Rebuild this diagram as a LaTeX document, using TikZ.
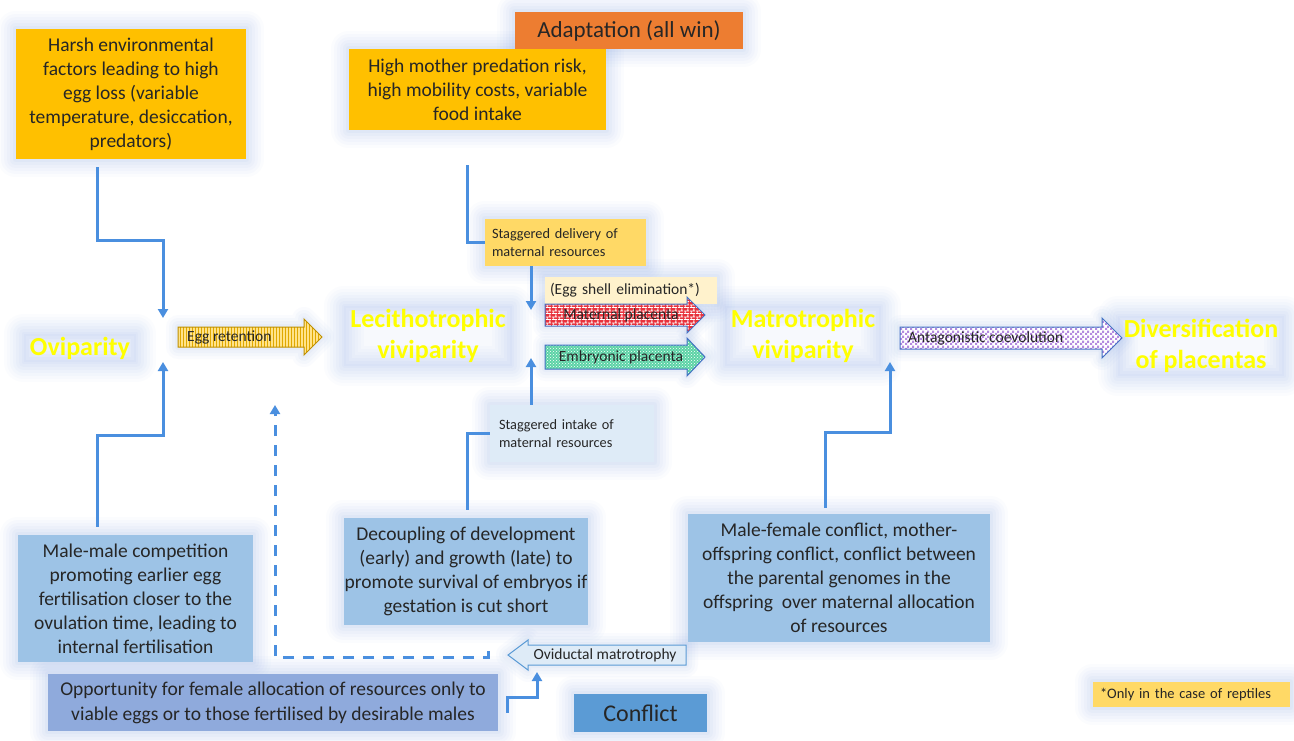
\documentclass[tikz,border=0pt]{standalone}
\usepackage{fontspec}
\setmainfont{Carlito}
\usetikzlibrary{arrows.meta,patterns,calc}
\pgfdeclarelayer{background}
\pgfsetlayers{background,main}

\definecolor{goldc}{HTML}{FFC000}
\definecolor{goldlt}{HTML}{FFD966}
\definecolor{creamc}{HTML}{FFF2CC}
\definecolor{orangec}{HTML}{ED7D31}
\definecolor{blueboxc}{HTML}{9DC3E6}
\definecolor{paleboxc}{HTML}{DEEBF7}
\definecolor{slateboxc}{HTML}{8FAADC}
\definecolor{conflictc}{HTML}{5B9BD5}
\definecolor{linec}{HTML}{4A8FDF}
\definecolor{glowc}{HTML}{8FAEE6}
\definecolor{yelc}{HTML}{FFFF00}
\definecolor{txtc}{HTML}{262626}
\definecolor{edgec}{HTML}{4472C4}
\definecolor{eggfill}{HTML}{FFE38A}
\definecolor{eggline}{HTML}{E0A800}
\definecolor{eggedge}{HTML}{BF9000}
\definecolor{redfill}{HTML}{E8323C}
\definecolor{greenfill}{HTML}{5CD3A6}
\definecolor{purpline}{HTML}{B48ADF}

% small brick texture for the maternal placenta arrow
\pgfdeclarepatternformonly{smallbricks}{\pgfqpoint{0pt}{0pt}}{\pgfqpoint{6pt}{6pt}}{\pgfqpoint{6pt}{6pt}}{%
  \pgfsetlinewidth{0.9pt}%
  \pgfpathmoveto{\pgfqpoint{0pt}{0.5pt}}\pgfpathlineto{\pgfqpoint{6pt}{0.5pt}}%
  \pgfpathmoveto{\pgfqpoint{0pt}{3.5pt}}\pgfpathlineto{\pgfqpoint{6pt}{3.5pt}}%
  \pgfpathmoveto{\pgfqpoint{1.5pt}{0.5pt}}\pgfpathlineto{\pgfqpoint{1.5pt}{3.5pt}}%
  \pgfpathmoveto{\pgfqpoint{4.5pt}{3.5pt}}\pgfpathlineto{\pgfqpoint{4.5pt}{6.5pt}}%
  \pgfusepath{stroke}}
% fine checker texture for the coevolution arrow
\pgfdeclarepatternformonly{finechecker}{\pgfqpoint{0pt}{0pt}}{\pgfqpoint{5pt}{5pt}}{\pgfqpoint{5pt}{5pt}}{%
  \pgfpathrectangle{\pgfqpoint{0pt}{0pt}}{\pgfqpoint{2.5pt}{2.5pt}}%
  \pgfpathrectangle{\pgfqpoint{2.5pt}{2.5pt}}{\pgfqpoint{2.5pt}{2.5pt}}%
  \pgfusepath{fill}}

\newcommand\txtbig{\fontsize{19.5}{24}\selectfont}
\newcommand\txtopp{\fontsize{19.5}{25}\selectfont}
\newcommand\txtsmall{\fontsize{14.3}{18}\selectfont}
\newcommand\txtarr{\fontsize{15.5}{18}\selectfont}
\newcommand\txtylab{\fontsize{26}{31}\selectfont\bfseries}

% block arrow: options, tail x, tip x, centre y, body half, head half, head length (signed)
\newcommand\blockarrow[7]{%
  \path[#1] ({#2},{#4-(#5)}) -- ({#3-(#7)},{#4-(#5)}) -- ({#3-(#7)},{#4-(#6)})
    -- ({#3},{#4}) -- ({#3-(#7)},{#4+(#6)}) -- ({#3-(#7)},{#4+(#5)})
    -- ({#2},{#4+(#5)}) -- cycle;}

\tikzset{
  box/.style={rectangle, inner sep=0pt, align=center, text=txtc},
  goldbox/.style={box, fill=goldc, font=\txtbig},
  bluebox/.style={box, fill=blueboxc, font=\txtbig},
  smallbox/.style={box, align=left, font=\txtsmall, inner xsep=7pt},
  ylab/.style={text=yelc, font=\txtylab, align=center, inner xsep=6pt, inner ysep=3pt},
  alab/.style={text=txtc, font=\txtarr, inner sep=0pt},
  conn/.style={draw=linec, line width=3pt, -{Triangle[length=9pt,width=10pt]}},
  connplain/.style={draw=linec, line width=3pt},
  halo/.style={glowc, line join=round},
}

\begin{document}
\begin{tikzpicture}[x=1pt,y=-1pt]
\useasboundingbox (0,0) rectangle (1294,740);

% ---------- boxes ----------
\node[goldbox, minimum width=230, minimum height=130] (harsh) at (131,94)
  {Harsh environmental\\factors leading to high\\egg loss (variable\\temperature, desiccation,\\predators)};
\node[box, fill=orangec, minimum width=228, minimum height=37, font=\fontsize{23}{26}\selectfont] (adapt) at (629,30.5)
  {Adaptation (all win)};
\node[goldbox, minimum width=257, minimum height=81] (high) at (477.5,89.5)
  {High mother predation risk,\\high mobility costs, variable\\food intake};
\node[smallbox, fill=goldlt, text width=147, minimum height=47] (deliv) at (565.5,242.5)
  {Staggered delivery of\\maternal resources};
\node[smallbox, fill=creamc, text width=162, minimum height=27, inner xsep=5pt, font=\fontsize{15.5}{18}\selectfont] (eggshell) at (631,290.5)
  {(Egg shell elimination*)};
\node[smallbox, fill=paleboxc, text width=146, minimum height=57, inner xsep=9pt] (intake) at (572,433.5)
  {Staggered intake of\\maternal resources};
\node[bluebox, minimum width=244, minimum height=107] (decoup) at (466,571.5)
  {Decoupling of development\\(early) and growth (late) to\\promote survival of embryos if\\gestation is cut short};
\node[bluebox, minimum width=302, minimum height=128] (mfconf) at (839,578)
  {Male-female conflict, mother-\\offspring conflict, conflict between\\the parental genomes in the\\offspring\ \ over maternal allocation\\of resources};
\node[bluebox, minimum width=235, minimum height=127] (mmcomp) at (135.5,598.5)
  {Male-male competition\\promoting earlier egg\\fertilisation closer to the\\ovulation time, leading to\\internal fertilisation};
\node[box, fill=slateboxc, minimum width=450, minimum height=57, font=\txtopp] (oppo) at (273,702.5)
  {Opportunity for female allocation of resources only to\\viable eggs or to those fertilised by desirable males};
\node[box, fill=conflictc, minimum width=133, minimum height=38, font=\fontsize{24}{26}\selectfont] (conflict) at (640.5,713)
  {Conflict};
\node[smallbox, fill=goldlt, text width=183, minimum height=25, font=\fontsize{14.5}{17}\selectfont] (reptiles) at (1191.5,694.5)
  {*Only in the case of reptiles};

% ---------- stage labels ----------
\node[ylab] (ovip) at (80,348) {Oviparity};
\node[ylab] (lecith) at (428,336) {Lecithotrophic\\viviparity};
\node[ylab] (matro) at (803,336) {Matrotrophic\\viviparity};
\node[ylab] (divers) at (1201,346) {Diversification\\of placentas};

% ---------- block arrows ----------
\blockarrow{preaction={fill=eggfill}, pattern=vertical lines, pattern color=eggline, draw=eggedge, line width=1pt}{178}{322}{337}{10}{18}{18}
\node[alab, anchor=west] (eggret) at (187,337) {Egg retention};

\blockarrow{preaction={fill=redfill}, pattern=smallbricks, pattern color=white, draw=edgec, line width=1pt}{545}{705}{315}{11}{18}{18}
\node[alab] (matpl) at (621,315) {Maternal placenta};

\blockarrow{preaction={fill=greenfill}, pattern=crosshatch dots, pattern color=white, draw=edgec, line width=1pt}{545}{705}{357}{12}{19}{18}
\node[alab] (embpl) at (621,357) {Embryonic placenta};

\blockarrow{preaction={fill=white}, pattern=finechecker, pattern color=purpline, draw=edgec, line width=1pt}{900}{1122}{338}{11}{20}{20}
\node[alab, anchor=west] (antag) at (908,338) {Antagonistic coevolution};

\blockarrow{fill=paleboxc, draw=conflictc, line width=1pt}{686}{508}{655}{10}{15}{-20}
\node[alab] (ovid) at (605,655) {Oviductal matrotrophy};

% ---------- white ground and soft halo behind everything ----------
\begin{pgfonlayer}{background}
  \fill[white] (0,0) rectangle (1294,740);
  \foreach \n in {harsh,adapt,high,deliv,eggshell,intake,decoup,mfconf,mmcomp,oppo,conflict,reptiles}{
    \foreach \w/\o in {36/0.035,30/0.04,24/0.045,18/0.05,12/0.06,6/0.07}
      \draw[halo, line width=\w pt, opacity=\o] (\n.south west) rectangle (\n.north east);
  }
  \foreach \n in {ovip,lecith,matro,divers}{
    \fill[glowc, opacity=0.07] (\n.south west) rectangle (\n.north east);
    \foreach \w/\o in {40/0.03,34/0.035,28/0.04,22/0.045,16/0.05,10/0.05,4/0.05}
      \draw[halo, line width=\w pt, opacity=\o] (\n.south west) rectangle (\n.north east);
  }
  \foreach \w/\o in {24/0.04,18/0.05,12/0.06,6/0.07}{
    \blockarrow{halo, draw, line width=\w pt, opacity=\o}{178}{322}{337}{10}{18}{18}
    \blockarrow{halo, draw, line width=\w pt, opacity=\o}{545}{705}{315}{11}{18}{18}
    \blockarrow{halo, draw, line width=\w pt, opacity=\o}{545}{705}{357}{12}{19}{18}
    \blockarrow{halo, draw, line width=\w pt, opacity=\o}{900}{1122}{338}{11}{20}{20}
    \blockarrow{halo, draw, line width=\w pt, opacity=\o}{686}{508}{655}{10}{15}{-20}
  }
\end{pgfonlayer}

% ---------- connector end points ----------
\coordinate (ovipTop) at (163,318);
\coordinate (ovipBot) at (163,362);
\coordinate (placTop) at (531,310);
\coordinate (placBot) at (531,358);
\coordinate (matroBot) at (890,362);
\coordinate (dashEnd) at (275,405);
\coordinate (dashStart) at (488,651);
\coordinate (ovidBot) at (537,672);

% ---------- connectors ----------
\draw[conn] ([xshift=-34pt,yshift=-8pt]harsh.south) |- (130,240) -| (ovipTop);
\draw[conn] ([xshift=-38.5pt,yshift=8pt]mmcomp.north) |- (130,435) -| (ovipBot);
\draw[connplain] ([xshift=-10.5pt,yshift=-35pt]high.south) |- (deliv.west);
\draw[conn] ([xshift=-34.5pt]deliv.south) -- (placTop);
\draw[connplain] ([xshift=1pt,yshift=8pt]decoup.north) |- (intake.west);
\draw[conn] ([xshift=-41pt]intake.north) -- (placBot);
\draw[conn] ([xshift=-14pt,yshift=6pt]mfconf.north) |- (860,432) -| (matroBot);
\draw[conn, dash pattern=on 11pt off 9pt] (dashStart) |- (380,657) -| (dashEnd);
\draw[conn] ([xshift=9pt,yshift=-10pt]oppo.east) |- (520,697) -| (ovidBot);
\end{tikzpicture}
\end{document}
